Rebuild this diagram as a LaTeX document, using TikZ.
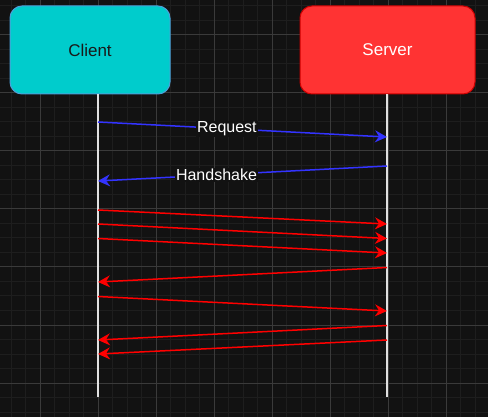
\documentclass[tikz,border=0pt]{standalone}
\usepackage{fontspec}
\setmainfont{Liberation Sans}
\definecolor{BgDark}{RGB}{18, 18, 18}
\definecolor{GridMinor}{RGB}{30, 30, 30}
\definecolor{GridMajor}{RGB}{58, 58, 58}
\definecolor{ClientFill}{RGB}{0, 204, 204}
\definecolor{ClientLine}{RGB}{77, 159, 217}
\definecolor{ServerFill}{RGB}{255, 51, 51}
\definecolor{ServerLine}{RGB}{204, 0, 0}
\definecolor{MsgBlue}{RGB}{51, 51, 255}
\definecolor{MsgRed}{RGB}{255, 0, 0}
\usetikzlibrary{arrows.meta, positioning, calc}

\begin{document}
\begin{tikzpicture}[x=1pt, y=-1pt,
    actor/.style={rounded corners=12pt, minimum height=88pt, line width=1pt,
        font=\fontsize{17}{20}\selectfont},
    lifeline/.style={draw=white!88!black, line width=1.5pt},
    msg/.style={line width=1.5pt, -{Stealth[length=12pt, width=12pt, inset=4pt]}},
    msglabel/.style={fill=BgDark, text=white, inner sep=1pt,
        font=\fontsize{16}{19}\selectfont}]
    \useasboundingbox (0,0) rectangle (488,417);
    \fill[BgDark] (0,0) rectangle (488,417);

    % Grid
    \foreach \x in {11,25.5,...,488} \draw[GridMinor, line width=1pt] (\x,0) -- (\x,417);
    \foreach \y in {6,20.5,...,417} \draw[GridMinor, line width=1pt] (0,\y) -- (488,\y);
    \foreach \x in {40,98,...,488} \draw[GridMajor, line width=1pt] (\x,0) -- (\x,417);
    \foreach \y in {35,93,...,417} \draw[GridMajor, line width=1pt] (0,\y) -- (488,\y);

    % Actors
    \node[actor, fill=ClientFill, draw=ClientLine, minimum width=160pt, text=black!90] (client) at (90,50) {Client};
    \node[actor, fill=ServerFill, draw=ServerLine, minimum width=175pt, text=white] (server) at (387.5,50) {Server};

    % Lifelines
    \coordinate (clientend) at (98,397);
    \coordinate (serverend) at (387,397);
    \draw[lifeline] (client.south -| clientend) -- (clientend);
    \draw[lifeline] (server.south -| serverend) -- (serverend);

    % Message end points
    \foreach \n/\ya/\yb in {1/122/137, 2/181/166, 3/210/224, 4/224/238.5, 5/238.5/253,
        6/282/267.5, 7/296.5/311, 8/340/325.5, 9/354/340} {
        \coordinate (c\n) at (98,\ya);
        \coordinate (s\n) at (387,\yb);
    }

    % Blue messages
    \draw[msg, MsgBlue] (c1) -- node[msglabel, pos=0.446] {Request} (s1);
    \draw[msg, MsgBlue] (s2) -- node[msglabel, pos=0.59] {Handshake} (c2);

    % Red messages
    \foreach \n in {3,4,5,7} \draw[msg, MsgRed] (c\n) -- (s\n);
    \foreach \n in {6,8,9} \draw[msg, MsgRed] (s\n) -- (c\n);
\end{tikzpicture}
\end{document}
